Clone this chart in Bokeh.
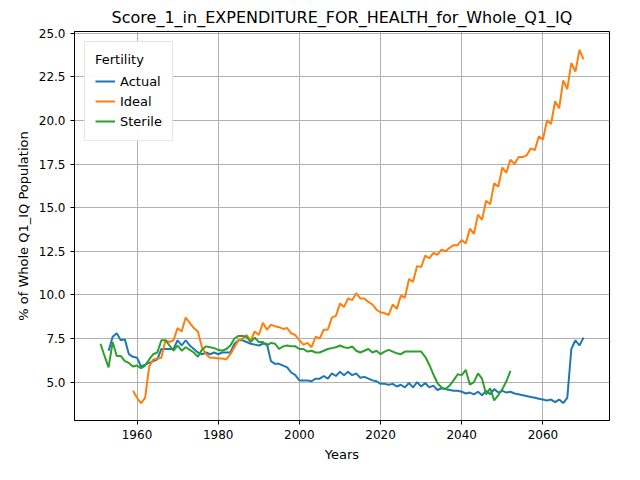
from bokeh.plotting import figure
from bokeh.models import Legend, LegendItem, Range1d, SingleIntervalTicker, CustomJSTickFormatter
from bokeh.embed import file_html
from bokeh.resources import INLINE

actual_years = list(range(1953, 2071))
actual = [6.8,7.6,7.8,7.4,7.45,6.6,6.45,6.4,5.9,6.0,6.1,6.2,6.3,6.9,6.9,6.9,6.9,7.4,7.1,7.4,7.1,6.9,6.7,6.6,6.7,6.6,6.7,6.6,6.7,6.7,6.7,7.2,7.4,7.4,7.3,7.2,7.15,7.1,7.2,7.2,6.2,6.05,6.05,5.95,5.85,5.55,5.4,5.1,5.1,5.1,5.05,5.2,5.2,5.35,5.2,5.5,5.35,5.6,5.4,5.6,5.4,5.5,5.25,5.3,5.2,5.1,5.05,4.9,4.9,4.85,4.9,4.75,4.85,4.7,4.95,4.7,5.0,4.75,4.95,4.7,4.8,4.55,4.65,4.6,4.55,4.5,4.5,4.45,4.35,4.4,4.3,4.45,4.25,4.5,4.3,4.6,4.4,4.5,4.4,4.45,4.35,4.3,4.25,4.2,4.15,4.1,4.05,4.0,3.95,4.0,3.85,4.0,3.8,4.1,6.9,7.4,7.1,7.55,7.2]
ideal_years = list(range(1959, 2071))
ideal = [4.5,4.1,3.8,4.1,5.9,6.3,6.35,6.4,7.4,7.3,7.4,8.1,7.9,8.7,8.4,8.1,7.9,7.0,6.6,6.4,6.4,6.35,6.35,6.3,6.6,7.0,7.4,7.5,7.7,7.4,7.9,7.7,8.4,8.0,8.3,8.2,8.15,8.05,8.1,7.8,7.7,7.4,7.15,7.25,7.0,7.6,7.5,8.0,8.0,8.7,8.8,9.5,9.3,9.8,9.7,10.1,9.8,9.8,9.6,9.45,9.15,9.0,8.95,8.85,9.45,9.2,9.95,9.85,10.9,10.75,11.65,11.6,12.25,12.1,12.4,12.3,12.6,12.5,12.7,12.85,12.85,13.15,12.95,13.8,13.5,14.6,14.3,15.4,15.2,16.4,16.2,17.3,17.0,17.75,17.5,17.9,17.9,18.0,18.4,18.3,19.1,18.9,20.0,19.8,21.1,20.7,22.3,21.8,23.3,22.8,24.05,23.5]
sterile_years = list(range(1951, 2053))
sterile = [7.2,6.5,5.85,7.3,6.5,6.5,6.2,6.1,5.9,5.95,5.8,5.95,6.3,6.6,6.7,7.4,7.4,7.1,6.8,7.1,6.8,7.0,6.85,6.7,6.45,6.85,7.05,7.0,6.95,6.85,6.8,6.9,7.1,7.5,7.65,7.65,7.6,7.3,7.55,7.3,7.3,7.1,7.25,7.2,6.9,7.05,7.1,7.05,7.05,6.9,6.9,6.75,6.8,6.7,6.7,6.8,6.9,6.95,7.0,7.1,7.0,6.95,7.05,6.8,6.7,6.8,6.9,6.7,6.8,6.6,6.75,6.85,6.75,6.65,6.6,6.75,6.75,6.75,6.75,6.75,6.45,6.0,5.45,4.95,4.7,4.6,4.8,5.1,5.45,5.4,5.7,4.85,5.0,5.5,5.2,4.3,4.65,3.95,4.25,4.6,5.05,5.65]

p = figure(width=624, height=464, output_backend="svg", toolbar_location=None,
           title="Score_1_in_EXPENDITURE_FOR_HEALTH_for_Whole_Q1_IQ",
           x_range=Range1d(1944.6, 2076.4), y_range=Range1d(2.8, 25.1),
           min_border_left=74, min_border_right=15, min_border_top=10, min_border_bottom=10)
p.title.align = "center"
p.title.text_font = "DejaVu Sans"
p.title.text_font_size = "16px"
p.title.text_font_style = "normal"
p.title.text_color = "black"
p.xaxis.axis_label = "Years"
p.yaxis.axis_label = "% of Whole Q1_IQ Population"
for ax in (p.xaxis[0], p.yaxis[0]):
    ax.axis_label_text_font = "DejaVu Sans"
    ax.axis_label_text_font_style = "normal"
    ax.axis_label_text_font_size = "13px"
    ax.axis_label_text_color = "black"
    ax.major_label_text_font = "DejaVu Sans"
    ax.major_label_text_font_size = "12px"
    ax.major_label_text_color = "black"
    ax.minor_tick_line_color = None
    ax.major_tick_out = 4
    ax.major_tick_in = 0
    ax.axis_line_color = "black"
    ax.major_tick_line_color = "black"
p.xaxis.ticker = SingleIntervalTicker(interval=20)
p.yaxis.ticker = SingleIntervalTicker(interval=2.5)
p.yaxis.formatter = CustomJSTickFormatter(code="return tick.toFixed(1);")
p.grid.grid_line_color = "#b0b0b0"
p.grid.grid_line_alpha = 1.0
p.outline_line_color = "black"

r1 = p.line(actual_years, actual, color="#1f77b4", line_width=2)
r2 = p.line(ideal_years, ideal, color="#ff7f0e", line_width=2)
r3 = p.line(sterile_years, sterile, color="#2ca02c", line_width=2)
leg = Legend(items=[LegendItem(label="Actual", renderers=[r1]),
                    LegendItem(label="Ideal", renderers=[r2]),
                    LegendItem(label="Sterile", renderers=[r3])],
             location="top_left", title="Fertility")
leg.title_text_font_size = "13px"
leg.title_text_font = "DejaVu Sans"
leg.title_text_font_style = "normal"
leg.title_text_color = "black"
leg.label_text_font = "DejaVu Sans"
leg.label_text_font_size = "13px"
leg.label_text_color = "black"
leg.border_line_color = "#cccccc"
leg.glyph_height = 18
leg.label_height = 18
leg.spacing = 2
p.add_layout(leg)
open("out.html", "w").write(file_html(p, INLINE))
